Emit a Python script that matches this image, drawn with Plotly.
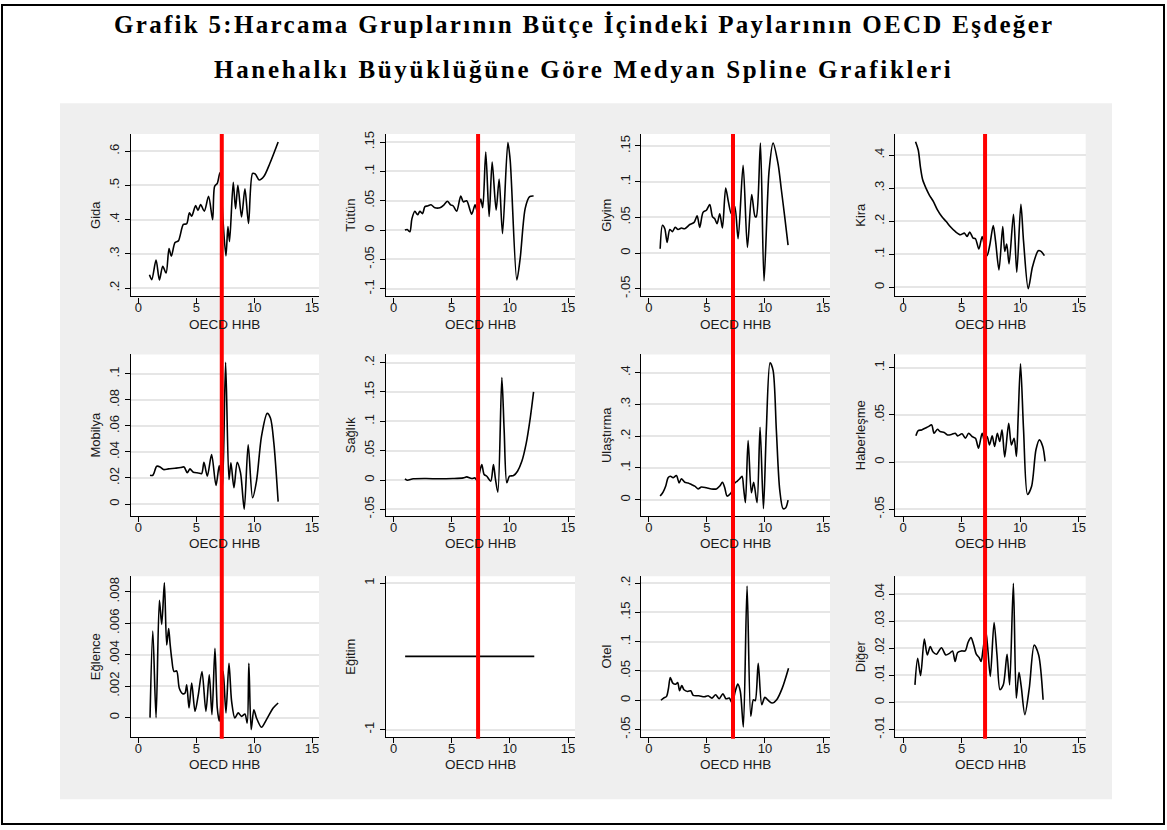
import plotly.graph_objects as go

W, H = 1167, 830

# ---------------- data ----------------
GIDA_X = [0.95, 1.15, 1.52, 1.81, 2.1, 2.39, 2.64, 2.84, 3.16, 3.45, 3.88, 4.17, 4.4, 4.6, 4.94, 5.14, 5.37,
          5.69, 6.06, 6.41, 6.58, 6.81, 7.04, 7.3, 7.56, 7.73, 7.87, 8.19, 8.39, 8.59, 8.91, 9.2, 9.51, 9.86,
          10.1, 10.43, 10.83, 11.35, 12.07]
GIDA_Y = [.239, .225, .282, .224, .264, .244, .316, .293, .333, .338, .386, .388, .42, .41, .441, .427, .444,
          .425, .468, .40, .497, .506, .537, .40, .294, .38, .336, .509, .432, .50, .408, .49, .389, .535,
          .533, .516, .526, .564, .627]

TUTUN_X = [0.98, 1.18, 1.41, 1.58, 1.84, 2.07, 2.27, 2.5, 2.7, 2.93, 3.22, 3.56, 3.99, 4.34, 4.63, 4.91, 5.14,
           5.43, 5.78, 6.0, 6.29, 6.72, 7.01, 7.21, 7.5, 7.67, 7.93, 8.22, 8.48, 8.82, 9.08, 9.37, 9.83, 10.03,
           10.6, 10.89, 11.32, 11.7, 12.04]
TUTUN_Y = [0.0, .001, -.003, .019, .032, .026, .032, .028, .04, .041, .043, .038, .038, .043, .049, .043, .041,
           .032, .058, .048, .05, .027, .043, .031, .053, .038, .133, .023, .116, .034, .087, -.006, .149, .119,
           -.085, -.048, .037, .057, .058]

GIYIM_X = [0.98, 1.18, 1.38, 1.58, 1.81, 2.04, 2.27, 2.52, 2.81, 3.1, 3.53, 3.9, 4.16, 4.39, 4.67, 4.96, 5.25,
           5.48, 5.68, 5.88, 6.11, 6.34, 6.62, 6.85, 7.11, 7.4, 7.69, 8.12, 8.49, 8.86, 9.15, 9.26, 9.61, 9.92,
           10.35, 10.7, 11.13, 11.41, 11.7, 11.99]
GIYIM_Y = [.006, .039, .034, .015, .033, .03, .036, .033, .035, .034, .04, .043, .052, .036, .057, .06, .068,
           .051, .048, .041, .055, .035, .091, .072, .055, .065, .02, .123, .008, .082, .051, .051, .154, -.039,
           .114, .154, .125, .089, .051, .011]

KIRA_X = [1.06, 1.29, 1.49, 1.67, 1.95, 2.24, 2.59, 2.93, 3.3, 3.68, 4.02, 4.45, 4.89, 5.23, 5.46, 5.69, 5.98,
          6.18, 6.47, 6.75, 6.98, 7.18, 7.41, 7.7, 7.9, 8.19, 8.51, 8.68, 8.85, 9.05, 9.43, 9.71, 10.06, 10.29,
          10.69, 11.06, 11.55, 11.78, 12.07]
KIRA_Y = [.44, .415, .36, .325, .30, .279, .259, .234, .214, .199, .184, .169, .159, .164, .154, .167, .149,
          .147, .116, .154, .119, .096, .129, .187, .139, .053, .184, .109, .131, .071, .221, .046, .251, .139,
          -.004, .063, .111, .109, .096]

MOBILYA_X = [1.0, 1.24, 1.58, 1.87, 2.16, 2.59, 3.16, 3.65, 3.94, 4.22, 4.45, 4.74, 5.17, 5.46, 5.66, 5.95, 6.32,
             6.7, 6.98, 7.24, 7.53, 7.82, 7.99, 8.25, 8.53, 8.82, 9.14, 9.48, 9.86, 10.2, 10.63, 11.12, 11.41,
             11.7, 12.07]
MOBILYA_Y = [.0221, .0221, .029, .0285, .0265, .027, .0275, .028, .0285, .024, .027, .0244, .0239, .0234, .032,
             .0214, .038, .0143, .0295, .0112, .109, .0188, .0316, .0125, .032, .0239, -.004, .0455, .0048, .0176,
             .052, .0697, .066, .0468, .0018]

SAGLIK_X = [0.98, 1.18, 1.7, 2.8, 3.95, 5.1, 6.0, 6.29, 6.72, 7.01, 7.21, 7.39, 7.59, 7.79, 8.02, 8.36, 8.59,
            8.76, 8.97, 9.31, 9.51, 9.74, 9.97, 10.32, 10.66, 11.03, 11.41, 11.75, 12.04]
SAGLIK_Y = [.0019, -.0003, .002, .0025, .002, .0025, .0036, .0053, .0025, .0036, -.002, .012, .0262, .0093,
            .0064, -.002, .0262, .0019, -.0207, .1746, .0854, -.0048, .0064, .0076, .015, .0318, .0629, .1052,
            .1503]

ULASTIRMA_X = [0.98, 1.23, 1.46, 1.66, 1.86, 2.09, 2.38, 2.61, 2.81, 3.1, 3.38, 3.67, 3.96, 4.24, 4.53, 4.96,
               5.39, 5.82, 6.11, 6.34, 6.54, 6.74, 6.97, 7.17, 7.4, 7.6, 7.83, 8.03, 8.17, 8.32, 8.55, 8.83, 9.03,
               9.32, 9.58, 9.87, 10.12, 10.44, 10.7, 10.98, 11.27, 11.56, 11.79, 11.99]
ULASTIRMA_Y = [.0115, .024, .043, .069, .074, .069, .076, .053, .066, .055, .053, .048, .043, .034, .04, .0375,
               .034, .034, .043, .055, .0375, .0115, .017, .027, .053, .058, .066, .074, .034, -.009, .186, .022,
               .055, -.009, .228, -.028, .22, .431, .407, .22, .032, -.028, -.025, -.001]

HABERLESME_X = [1.09, 1.29, 1.58, 1.87, 2.16, 2.44, 2.64, 2.93, 3.16, 3.51, 3.79, 4.17, 4.45, 4.66, 5.03, 5.32,
                5.6, 5.89, 6.18, 6.44, 6.75, 6.98, 7.18, 7.38, 7.61, 7.82, 8.05, 8.25, 8.45, 8.68, 9.02, 9.25,
                9.48, 9.68, 9.83, 10.03, 10.29, 10.63, 10.98, 11.35, 11.64, 11.93, 12.13]
HABERLESME_Y = [.0278, .0334, .0341, .0359, .0376, .0394, .0306, .0348, .0324, .0313, .0288, .0295, .0306, .0278,
                .03, .0253, .0306, .0271, .0253, .0148, .0306, .0208, .0271, .0183, .0278, .0166, .0306, .0218,
                .0341, .0054, .0411, .0183, .0253, .0061, .0481, .1042, .0341, -.0342, -.0255, .0131, .0236,
                .0166, .0008]

EGLENCE_X = [1.0, 1.24, 1.52, 1.81, 2.01, 2.24, 2.44, 2.61, 2.73, 2.87, 3.07, 3.3, 3.53, 3.82, 4.02, 4.17, 4.37,
             4.6, 4.89, 5.17, 5.49, 5.83, 6.12, 6.35, 6.61, 6.81, 6.98, 7.18, 7.33, 7.56, 7.82, 8.05, 8.33, 8.62,
             8.91, 9.2, 9.4, 9.54, 9.74, 9.97, 10.2, 10.63, 11.06, 11.64, 12.07]
EGLENCE_Y = [0.0, .0055, 0.0, .00745, .00592, .00857, .00461, .00566, .00472, .00377, .00293, .00297, .00187,
             .00152, .00156, .00208, .00061, .00219, .0004, .00145, .00293, .0004, .00272, .00019, .0044, .00061,
             -.00023, .00145, .00293, .0003, .00345, .00103, -.00002, .0003, .00008, .00023, -.00034, .00345,
             -.00076, .0005, -.00002, -.00061, -.00013, .00061, .00093]

EGITIM_X = [1.0, 12.1]
EGITIM_Y = [0.0, 0.0]

OTEL_X = [1.05, 1.28, 1.53, 1.69, 1.85, 2.07, 2.33, 2.49, 2.65, 2.84, 3.03, 3.35, 3.61, 3.83, 4.31, 4.79, 5.11,
          5.43, 5.75, 6.06, 6.38, 6.64, 6.93, 7.18, 7.44, 7.66, 7.88, 8.14, 8.46, 8.78, 9.0, 9.16, 9.42, 9.73,
          9.99, 10.31, 10.63, 11.01, 11.49, 12.03]
OTEL_Y = [0.0, .0037, .0066, .0196, .0388, .0292, .0275, .0303, .0162, .0252, .0179, .015, .0162, .0083, .0077,
          .006, .0077, .0037, .0094, .0026, .011, .0026, .0037, -.0048, .015, .0275, .015, -.0455, .1949, -.0274,
          .0009, -.0008, .0631, -.0076, .0049, -.0008, -.0048, .0009, .0207, .0546]

DIGER_X = [1.01, 1.24, 1.49, 1.81, 2.06, 2.32, 2.54, 2.85, 3.27, 3.65, 3.96, 4.22, 4.44, 4.66, 4.98, 5.3, 5.55,
           5.8, 6.03, 6.25, 6.5, 6.66, 6.82, 7.07, 7.23, 7.45, 7.77, 8.02, 8.28, 8.56, 8.88, 9.1, 9.42, 9.67,
           9.9, 10.09, 10.4, 10.78, 11.2, 11.58, 11.96]
DIGER_Y = [.0065, .0163, .0099, .0234, .0175, .0206, .0187, .0178, .0202, .0175, .0181, .019, .0151, .0184, .019,
           .019, .0222, .0239, .0212, .0178, .0165, .0151, .0193, .0261, .02, .0096, .0295, .0175, .0047, .0065,
           .0178, .0065, .044, .0016, .0111, .0059, -.0045, .0053, .0212, .0175, .001]

SERIES_NAMES = ["Gida", "Tütün", "Giyim", "Kira",
                "Mobilya", "Sağlık", "Ulaştırma", "Haberleşme",
                "Eğlence", "Eğitim", "Otel", "Diğer"]
SERIES_X = [GIDA_X, TUTUN_X, GIYIM_X, KIRA_X, MOBILYA_X, SAGLIK_X, ULASTIRMA_X, HABERLESME_X,
            EGLENCE_X, EGITIM_X, OTEL_X, DIGER_X]
SERIES_Y = [GIDA_Y, TUTUN_Y, GIYIM_Y, KIRA_Y, MOBILYA_Y, SAGLIK_Y, ULASTIRMA_Y, HABERLESME_Y,
            EGLENCE_Y, EGITIM_Y, OTEL_Y, DIGER_Y]

X_TICKS = [0, 5, 10, 15]
Y_TICKS = [
    [.2, .3, .4, .5, .6],
    [-.1, -.05, 0, .05, .1, .15],
    [-.05, 0, .05, .1, .15],
    [0, .1, .2, .3, .4],
    [0, .02, .04, .06, .08, .1],
    [-.05, 0, .05, .1, .15, .2],
    [0, .1, .2, .3, .4],
    [-.05, 0, .05, .1],
    [0, .002, .004, .006, .008],
    [-1, 1],
    [-.05, 0, .05, .1, .15, .2],
    [-.01, 0, .01, .02, .03, .04],
]
Y_TICK_TEXT = [
    [".2", ".3", ".4", ".5", ".6"],
    ["-.1", "-.05", "0", ".05", ".1", ".15"],
    ["-.05", "0", ".05", ".1", ".15"],
    ["0", ".1", ".2", ".3", ".4"],
    ["0", ".02", ".04", ".06", ".08", ".1"],
    ["-.05", "0", ".05", ".1", ".15", ".2"],
    ["0", ".1", ".2", ".3", ".4"],
    ["-.05", "0", ".05", ".1"],
    ["0", ".002", ".004", ".006", ".008"],
    ["-1", "1"],
    ["-.05", "0", ".05", ".1", ".15", ".2"],
    ["-.01", "0", ".01", ".02", ".03", ".04"],
]
REF_LINE_X = [7.2, 7.27, 7.25, 7.0]   # red reference line per column
X_TITLE = "OECD HHB"
TITLE_1 = "Grafik 5:Harcama Gruplarının Bütçe İçindeki Paylarının OECD Eşdeğer"
TITLE_2 = "Hanehalkı Büyüklüğüne Göre Medyan Spline Grafikleri"

# ---------------- layout geometry (pixels) ----------------
Y_RANGES = [
    [.176, .65], [-.113, .1636], [-.0607, .1667], [-.027, .4633],
    [-.0092, .115], [-.0613, .214], [-.051, .457], [-.057, .114],
    [-.00124, .00899], [-1.103, 1.095], [-.063, .2119], [-.0128, .0466],
]
X_RANGE = [-0.67, 15.6]
COL_L = [130.7, 385.7, 641.0, 895.3]
COL_R = [319.0, 575.0, 830.0, 1085.7]
ROW_T = [132.0, 354.0, 577.3]
ROW_B = [295.5, 516.7, 739.5]

FONT = "Liberation Sans, Arial, sans-serif"
TXT = "#1a1a1a"

fig = go.Figure()
layout = dict(
    width=W, height=H, margin=dict(l=0, r=0, t=0, b=0),
    paper_bgcolor="white", plot_bgcolor="white", showlegend=False,
    font=dict(family=FONT, size=12, color=TXT),
)
shapes = [
    dict(type="rect", xref="paper", yref="paper", x0=60 / W, x1=1112 / W,
         y0=1 - 802 / H, y1=1 - 101 / H, fillcolor="#efefef", line=dict(width=0), layer="below"),
]
annotations = []

for i in range(12):
    r, c = divmod(i, 4)
    sfx = "" if i == 0 else str(i + 1)
    fig.add_trace(go.Scatter(
        x=SERIES_X[i], y=SERIES_Y[i], mode="lines",
        line=dict(color="black", width=1.6, shape="spline", smoothing=0.8),
        xaxis="x" + sfx, yaxis="y" + sfx, hoverinfo="skip"))
    layout["xaxis" + sfx] = dict(
        domain=[COL_L[c] / W, COL_R[c] / W], anchor="y" + sfx, range=X_RANGE,
        tickvals=X_TICKS, ticktext=[str(v) for v in X_TICKS],
        ticks="outside", ticklen=5, tickwidth=1, tickcolor="black", ticklabelstandoff=-6,
        showline=True, linecolor="black", linewidth=1.3, showgrid=False, zeroline=False,
        tickfont=dict(size=13, family=FONT, color=TXT),
    )
    layout["yaxis" + sfx] = dict(
        domain=[1 - ROW_B[r] / H, 1 - ROW_T[r] / H], anchor="x" + sfx, range=Y_RANGES[i],
        tickvals=Y_TICKS[i], ticktext=Y_TICK_TEXT[i], tickangle=-90,
        ticks="outside", ticklen=5, tickwidth=1, tickcolor="black",
        showline=True, linecolor="black", linewidth=1.3,
        showgrid=True, gridcolor="#e6e6e6", gridwidth=1.6, zeroline=False,
        tickfont=dict(size=13, family=FONT, color=TXT),
        title=dict(text=SERIES_NAMES[i], standoff=3, font=dict(size=13, family=FONT, color=TXT)),
    )
    shapes.append(dict(type="rect", xref="x" + sfx + " domain", yref="y" + sfx + " domain",
                       x0=0, x1=1, y0=0, y1=1, fillcolor="white", line=dict(width=0), layer="below"))
    # x-axis title placed tight under the tick labels, as in the reference
    annotations.append(dict(text=X_TITLE, xref="x" + sfx + " domain", yref="paper",
                            x=0.5, y=1 - (ROW_B[r] + 28) / H, xanchor="center", yanchor="middle",
                            showarrow=False, font=dict(size=13.5, family=FONT, color=TXT)))

for c in range(4):
    sfx = "" if c == 0 else str(c + 1)
    shapes.append(dict(type="line", xref="x" + sfx, yref="paper",
                       x0=REF_LINE_X[c], x1=REF_LINE_X[c],
                       y0=1 - 741 / H, y1=1 - 132 / H,
                       line=dict(color="#ff0000", width=4), layer="above"))

shapes.append(dict(type="rect", xref="paper", yref="paper", x0=2 / W, x1=1164 / W,
                   y0=1 - 827 / H, y1=1 - 2 / H, line=dict(color="black", width=2), layer="above"))

TITLE_FONT = dict(family="Liberation Serif, Times New Roman, serif", size=25, color="black")
annotations += [
    dict(text='<b><span style="letter-spacing:2.3px">' + TITLE_1 + '</span></b>', xref="paper", yref="paper",
         x=0.5, y=1 - 22 / H, xanchor="center", yanchor="middle", showarrow=False, font=TITLE_FONT),
    dict(text='<b><span style="letter-spacing:2.7px">' + TITLE_2 + '</span></b>', xref="paper", yref="paper",
         x=0.5, y=1 - 67 / H, xanchor="center", yanchor="middle", showarrow=False, font=TITLE_FONT),
]
layout["shapes"] = shapes
layout["annotations"] = annotations
fig.update_layout(**layout)
fig.write_html("out.html")
